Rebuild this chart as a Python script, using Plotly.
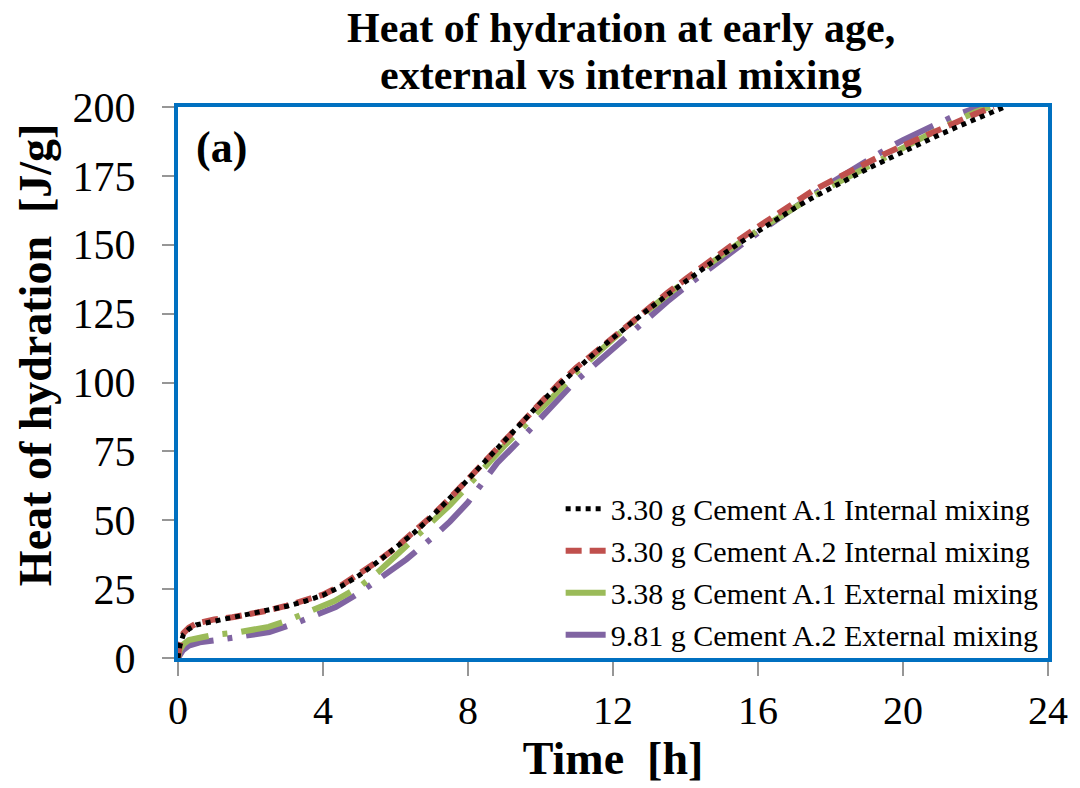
import plotly.graph_objects as go

# ---------------- data ----------------
t_int_a1 = [0, 0.05, 0.15, 0.3, 0.5, 1, 1.5, 2, 2.5, 3, 3.5, 4, 4.5, 5, 5.5, 6, 6.5, 7,
            7.5, 8, 8.5, 9, 9.5, 10, 10.5, 11, 11.5, 12, 12.5, 13, 13.5, 14, 14.5, 15,
            15.5, 16, 16.5, 17, 17.5, 18, 18.5, 19, 19.5, 20, 20.5, 21, 21.5, 22, 22.5, 22.8]
q_int_a1 = [0, 4.5, 8.5, 10.5, 12, 13.3, 14.5, 15.8, 17.2, 18.8, 20.6, 22.8, 26.0, 30.0, 34.8,
            39.8, 45.3, 51.3, 57.8, 64.8, 71.8, 78.8, 85.8, 92.6, 99.0, 105.0, 110.7, 116.2,
            121.6, 126.8, 131.8, 136.7, 141.5, 146.2, 150.7, 155.0, 159.2, 163.2, 167.0,
            170.6, 174.0, 177.4, 180.6, 183.8, 186.9, 189.9, 192.8, 195.6, 198.3, 200.0]

t_int_a2 = [0, 0.05, 0.15, 0.3, 0.5, 1, 1.5, 2, 2.5, 3, 3.5, 4, 4.5, 5, 5.5, 6, 6.5, 7,
            7.5, 8, 8.5, 9, 9.5, 10, 10.5, 11, 11.5, 12, 12.5, 13, 13.5, 14, 14.5, 15,
            15.5, 16, 16.5, 17, 17.5, 18, 18.5, 19, 19.5, 20, 20.5, 21, 21.5, 22, 22.5]
q_int_a2 = [0, 5, 9, 11, 12.5, 14, 14.8, 16, 17.3, 19, 20.8, 23, 26.3, 30.5, 35, 40, 45.5,
            51.5, 58, 65, 72, 79, 86, 93, 99.5, 105.5, 111, 116.5, 122, 127.5, 132.5, 137.5,
            142.5, 147.5, 152, 156.5, 161, 165.5, 169.5, 173, 176.5, 180, 183, 186, 189, 192,
            195, 197.5, 200]

t_ext_a1 = [0, 0.05, 0.15, 0.3, 0.7, 1, 1.7, 2.5, 3, 3.6, 4.3, 5, 5.5, 6, 6.5, 7, 7.5, 8,
            8.5, 9, 9.5, 10, 10.5, 11, 11.5, 12, 12.5, 13, 13.5, 14, 14.5, 15, 15.5, 16,
            16.5, 17, 17.5, 18, 18.5, 19, 19.5, 20, 20.5, 21, 21.5, 22, 22.4]
q_ext_a1 = [0, 3, 5, 6.5, 7.6, 8.4, 9.4, 11.3, 13.5, 16.7, 20.6, 25.8, 31, 37, 43, 49.3,
            55.5, 62.5, 70, 77, 83.5, 90, 97, 103.8, 110, 115.8, 121.3, 126.7, 131.8, 136.8,
            141.6, 146.3, 150.8, 155.2, 159.5, 163.6, 167.5, 171.2, 174.8, 178.3, 181.7,
            185.2, 188.6, 192.0, 195.2, 198.2, 200.0]

t_ext_a2 = [0, 0.05, 0.14, 0.3, 0.6, 1.07, 1.84, 2.52, 3.26, 4, 4.35, 5, 5.6, 6.3, 7, 7.5,
            8, 8.8, 9.5, 10, 10.9, 11.5, 12, 12.5, 13, 13.5, 14, 14.5, 15, 15.5, 16, 16.5,
            17, 17.5, 18, 18.5, 19, 19.5, 20, 20.5, 21, 21.5, 22, 22.2]
q_ext_a2 = [0, 1.5, 2.9, 4.5, 5.7, 6.5, 8, 9.4, 12.7, 16.5, 18.5, 23.6, 29, 35.8, 43.5, 49.5,
            56.5, 70.7, 80, 87, 99.6, 106.5, 112.3, 118, 123.8, 129.4, 134.7, 139.8, 144.8,
            149.6, 154.3, 159, 163.6, 168.0, 172.3, 176.5, 180.6, 184.4, 188.0, 191.3, 194.4,
            197.3, 199.6, 200.0]

series_names = ["3.30 g Cement A.1 Internal mixing",
                "3.30 g Cement A.2 Internal mixing",
                "3.38 g Cement A.1 External mixing",
                "9.81 g Cement A.2 External mixing"]
x_ticks = [0, 4, 8, 12, 16, 20, 24]
y_ticks = [0, 25, 50, 75, 100, 125, 150, 175, 200]
title_lines = ["Heat of hydration at early age,", "external vs internal mixing"]

# ---------------- figure ----------------
SERIF = "Liberation Serif, Times New Roman, serif"
fig = go.Figure()

# draw order: external first, internal on top
fig.add_trace(go.Scatter(x=t_ext_a2, y=q_ext_a2, mode="lines", name=series_names[3],
                         line=dict(color="rgb(128,100,162)", width=6,
                                   dash="42px,14px,5px,14px"),
                         legendrank=4))
fig.add_trace(go.Scatter(x=t_ext_a1, y=q_ext_a1, mode="lines", name=series_names[2],
                         line=dict(color="rgb(155,187,89)", width=6,
                                   dash="42px,14px,5px,14px"),
                         legendrank=3))
fig.add_trace(go.Scatter(x=t_int_a2, y=q_int_a2, mode="lines", name=series_names[1],
                         line=dict(color="rgb(192,80,77)", width=6, dash="16px,8px"),
                         legendrank=2))
fig.add_trace(go.Scatter(x=t_int_a1, y=q_int_a1, mode="lines", name=series_names[0],
                         line=dict(color="black", width=5, dash="dot"),
                         legendrank=1))

fig.update_layout(
    width=1080, height=788,
    margin=dict(l=178, r=26, t=107, b=130),
    paper_bgcolor="white", plot_bgcolor="white",
    font=dict(family=SERIF, color="black"),
    showlegend=True,
    legend=dict(x=0.995, xanchor="right", y=0.318, yanchor="top",
                bgcolor="rgba(255,255,255,0)", borderwidth=0,
                font=dict(family=SERIF, size=30, color="black"),
                traceorder="normal", itemwidth=40, tracegroupgap=0),
)

fig.update_xaxes(range=[0, 24], tickvals=x_ticks, ticktext=[str(v) for v in x_ticks],
                 showgrid=False, zeroline=False,
                 showline=True, mirror=True, linecolor="rgb(0,112,192)", linewidth=4,
                 ticks="outside", ticklen=14, tickwidth=1.5, tickcolor="rgb(150,150,150)",
                 tickfont=dict(family=SERIF, size=40, color="black"),
                 title=dict(text="<b>Time  [h]</b>", standoff=6,
                            font=dict(family=SERIF, size=46, color="black")))
fig.update_yaxes(range=[0, 200], tickvals=y_ticks, ticktext=[str(v) for v in y_ticks],
                 showgrid=False, zeroline=False,
                 showline=True, mirror=True, linecolor="rgb(0,112,192)", linewidth=4,
                 ticks="outside", ticklen=12, tickwidth=1.5, tickcolor="rgb(150,150,150)",
                 ticklabelstandoff=18,
                 tickfont=dict(family=SERIF, size=42, color="black"))

# y-axis title as annotation (placed like the reference)
fig.add_annotation(text="<b>Heat of hydration  [J/g]</b>", textangle=-90,
                   xref="paper", yref="paper", x=-0.163, y=0.55,
                   xanchor="center", yanchor="middle", showarrow=False,
                   font=dict(family=SERIF, size=46, color="black"))

# two-line title
fig.add_annotation(text="<b>" + title_lines[0] + "</b>", xref="paper", yref="paper",
                   x=0.509, y=1.143, xanchor="center", yanchor="middle", showarrow=False,
                   font=dict(family=SERIF, size=42, color="black"))
fig.add_annotation(text="<b>" + title_lines[1] + "</b>", xref="paper", yref="paper",
                   x=0.509, y=1.058, xanchor="center", yanchor="middle", showarrow=False,
                   font=dict(family=SERIF, size=42, color="black"))

fig.add_annotation(text="<b>(a)</b>", xref="paper", yref="paper", x=0.018, y=0.975,
                   xanchor="left", yanchor="top", showarrow=False,
                   font=dict(family=SERIF, size=44, color="black"))

fig.write_html("out.html")
